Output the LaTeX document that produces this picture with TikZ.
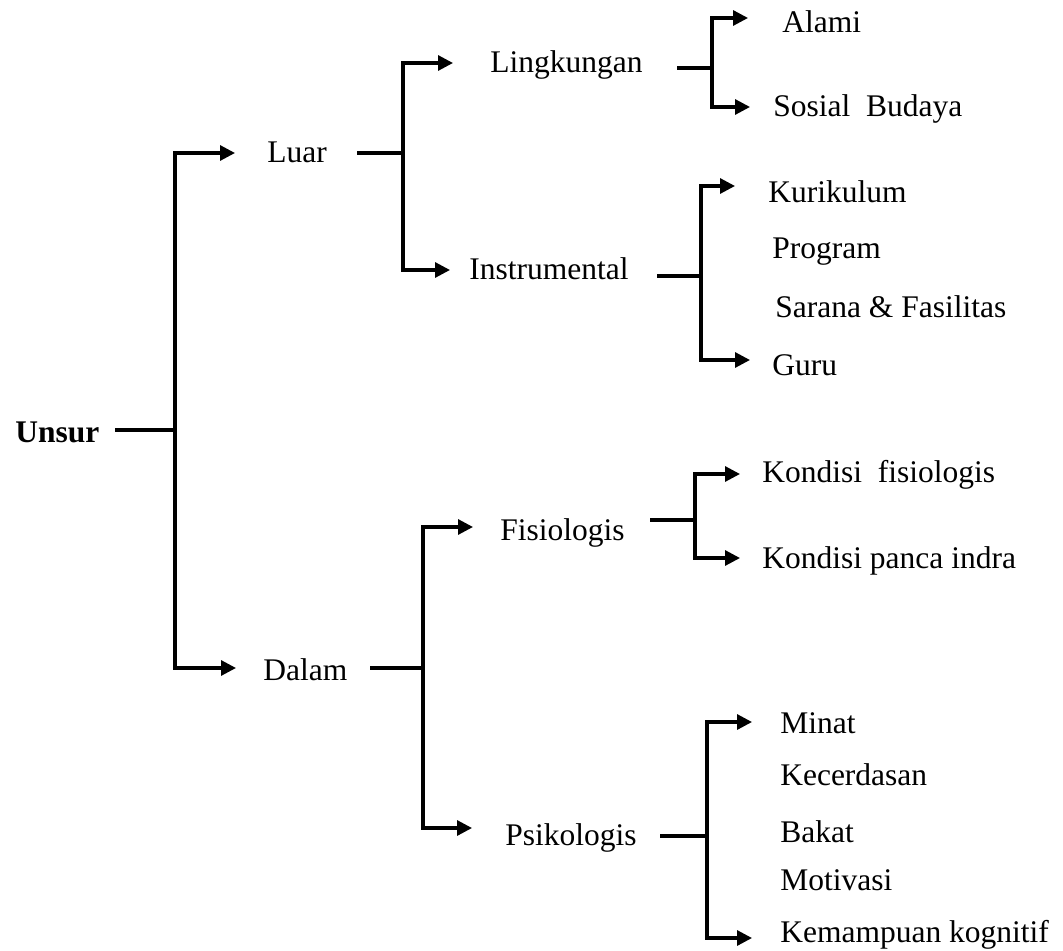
\documentclass[tikz,border=0pt]{standalone}
\usepackage{fontspec}
\setmainfont{Liberation Serif}
\usepackage{tikz}
\usetikzlibrary{arrows.meta}
\tikzset{
  lbl/.style ={anchor=base west, inner sep=0pt, font=\fontsize{22.4}{26}\selectfont},
  stub/.style={line width=3.2pt},
  % one bracket, arrow at both free ends
  brk/.style ={line width=2.2pt,
               {Triangle[length=10.5pt,width=10.5pt]}-{Triangle[length=10.5pt,width=10.5pt]}},
}
% name/x/baseline/text
\def\labellist{%
  luar/267/163/Luar, dalam/263/680/Dalam,
  ling/490/73/Lingkungan, instr/469/280/Instrumental,
  alami/782/33/Alami, sosial/773/117/Sosial\ \ Budaya,
  kuri/768/203/Kurikulum, prog/772/259/Program,
  sarana/775/317/Sarana \& Fasilitas, guru/772/375/Guru,
  fisio/500/540/Fisiologis, psiko/505/845/Psikologis,
  kfis/762/482/Kondisi\ \ fisiologis, kpanca/762/568/Kondisi panca indra,
  minat/780/733/Minat, kecer/780/785/Kecerdasan, bakat/780/842/Bakat,
  motiv/780/890/Motivasi, kemam/780/942/Kemampuan kognitif}
% branch/stub start x/junction x/y/top tip x/y/bottom tip x/y
\def\branchlist{%
  U/115/175/430/235/153/236/668,
  luar/357/403/153/453/63/450/270,
  dalam/370/423/668/473/527/472/828,
  ling/677/712/68/748/18/750/107,
  instr/657/701/276/735/186/750/360,
  fisio/650/695/520/740/474/740/558,
  psiko/660/707/836/752/722/752/938}

\begin{document}
\begin{tikzpicture}[x=0.025cm,y=-0.025cm]
  \useasboundingbox (0,0) rectangle (1063,951);
  \node[lbl,font=\fontsize{22.4}{26}\selectfont\bfseries] (unsur) at (15,442) {Unsur};
  \foreach \n/\x/\y/\t in \labellist {\node[lbl] (\n) at (\x,\y) {\t};}
  \foreach \b/\s/\j/\y/\ax/\ay/\bx/\by in \branchlist {
    \coordinate (s\b) at (\s,\y);
    \coordinate (j\b) at (\j,\y);
    \coordinate (a\b) at (\ax,\ay);
    \coordinate (z\b) at (\bx,\by);
    \draw[stub] (s\b) -- (j\b);
    \draw[brk] (a\b) -| (j\b) |- (z\b);
  }
\end{tikzpicture}
\end{document}
